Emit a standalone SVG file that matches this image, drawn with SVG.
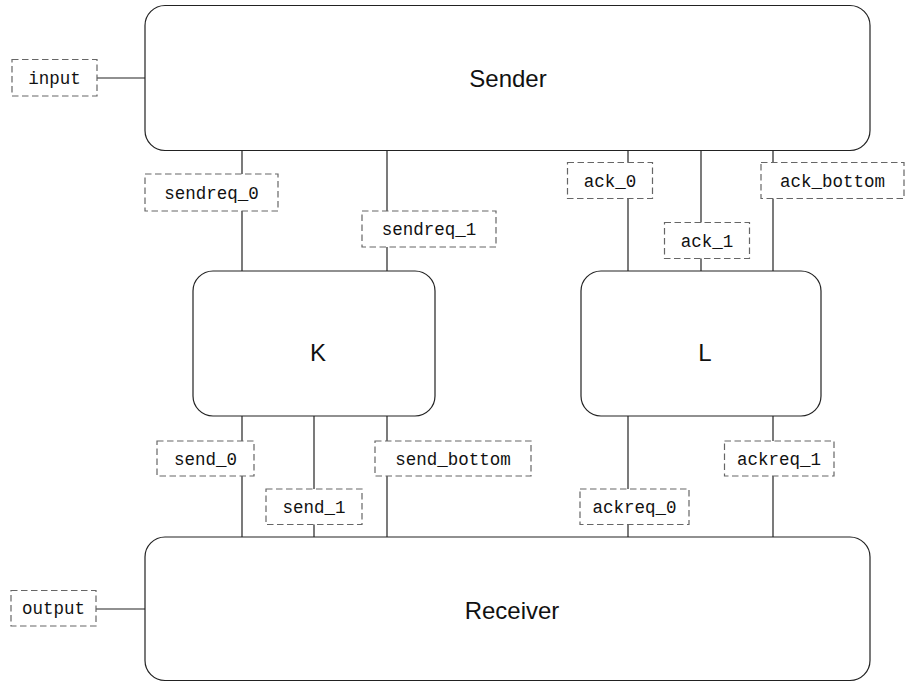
<svg xmlns="http://www.w3.org/2000/svg" width="907" height="682" viewBox="0 0 907 682">
<style>
.node{fill:#fff;stroke:#222;stroke-width:1.2}
.big{font-family:"Liberation Sans","DejaVu Sans",sans-serif;font-size:24px;fill:#111;text-anchor:middle}
.lbl rect{fill:#fff;stroke:#666;stroke-width:1.2;stroke-dasharray:6.5,3.5}
.lbl text{font-family:"Liberation Mono","DejaVu Sans Mono",monospace;font-size:17.5px;fill:#111;text-anchor:middle}
.wire{stroke:#222;stroke-width:1.2;fill:none}
</style>
<g id="connectors">
<line class="wire" x1="97" y1="78" x2="145" y2="78"/>
<line class="wire" x1="96" y1="609" x2="145" y2="609"/>
<line class="wire" x1="242" y1="150" x2="242" y2="271"/>
<line class="wire" x1="387" y1="150" x2="387" y2="271"/>
<line class="wire" x1="628" y1="150" x2="628" y2="271"/>
<line class="wire" x1="701" y1="150" x2="701" y2="271"/>
<line class="wire" x1="773" y1="150" x2="773" y2="271"/>
<line class="wire" x1="242" y1="416" x2="242" y2="537"/>
<line class="wire" x1="314" y1="416" x2="314" y2="537"/>
<line class="wire" x1="387" y1="416" x2="387" y2="537"/>
<line class="wire" x1="628" y1="416" x2="628" y2="537"/>
<line class="wire" x1="773" y1="416" x2="773" y2="537"/>
</g>
<g id="sender"><rect class="node" x="145" y="5.5" width="725" height="145" rx="20"/><text class="big" x="508" y="87">Sender</text></g>
<g id="K"><rect class="node" x="193" y="271" width="242" height="145" rx="20"/><text class="big" x="318" y="361">K</text></g>
<g id="L"><rect class="node" x="581" y="271" width="240" height="145" rx="20"/><text class="big" x="705" y="361">L</text></g>
<g id="receiver"><rect class="node" x="145" y="537" width="725" height="143.5" rx="20"/><text class="big" x="512" y="619">Receiver</text></g>
<g id="input" class="lbl"><rect x="12" y="59.5" width="85" height="36.5"/><text x="54.5" y="83.5">input</text></g>
<g id="output" class="lbl"><rect x="11" y="590.5" width="85" height="35.5"/><text x="53.5" y="614">output</text></g>
<g id="sendreq_0" class="lbl"><rect x="145" y="174" width="133" height="37"/><text x="211.5" y="198.5">sendreq_0</text></g>
<g id="sendreq_1" class="lbl"><rect x="362" y="211" width="134" height="36"/><text x="429" y="235">sendreq_1</text></g>
<g id="ack_0" class="lbl"><rect x="567.5" y="162.5" width="85" height="36"/><text x="610" y="186.5">ack_0</text></g>
<g id="ack_1" class="lbl"><rect x="664.5" y="222.5" width="85" height="36"/><text x="707" y="246.5">ack_1</text></g>
<g id="ack_bottom" class="lbl"><rect x="761" y="162.5" width="143" height="36"/><text x="832.5" y="186.5">ack_bottom</text></g>
<g id="send_0" class="lbl"><rect x="157" y="441" width="97" height="35"/><text x="205.5" y="464.5">send_0</text></g>
<g id="send_1" class="lbl"><rect x="266" y="489" width="96" height="35.5"/><text x="314" y="513">send_1</text></g>
<g id="send_bottom" class="lbl"><rect x="375" y="441" width="156" height="35"/><text x="453" y="464.5">send_bottom</text></g>
<g id="ackreq_1" class="lbl"><rect x="724.5" y="441" width="109.5" height="35"/><text x="779" y="464.5">ackreq_1</text></g>
<g id="ackreq_0" class="lbl"><rect x="580" y="489" width="109" height="35.5"/><text x="634.5" y="513">ackreq_0</text></g>
</svg>
